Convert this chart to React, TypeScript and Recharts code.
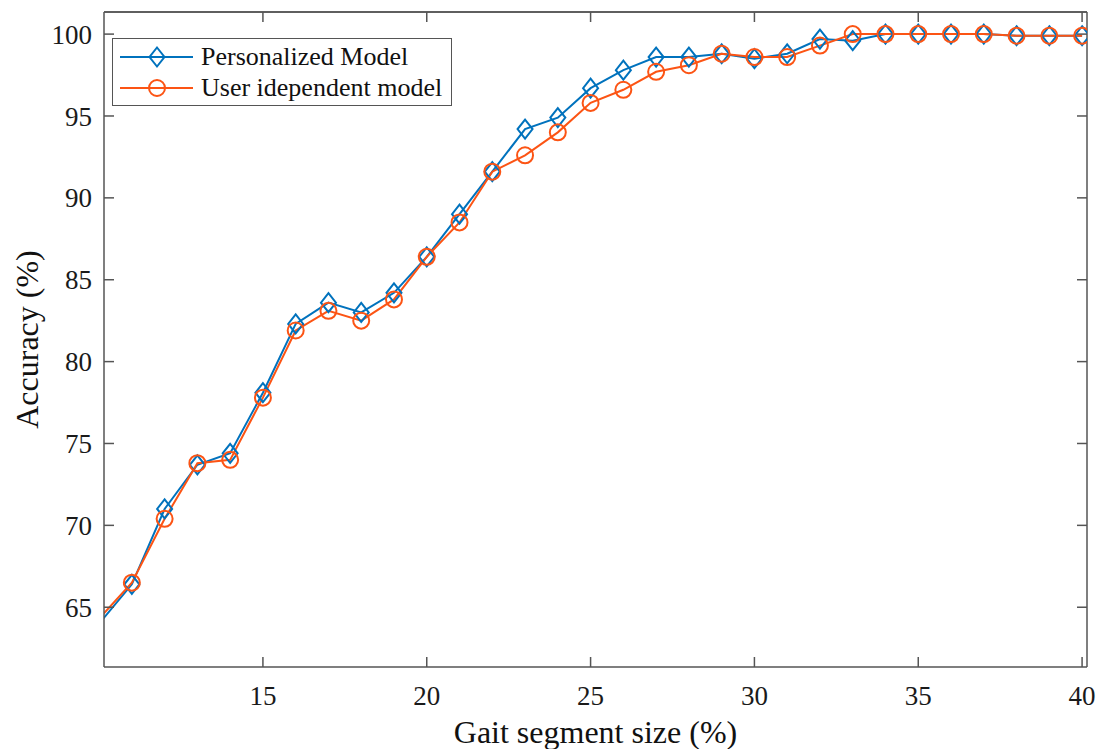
import React from 'react';
import { LineChart, Line, XAxis, YAxis, Legend, CartesianGrid } from 'recharts';

// gait segment size (%)
const segmentSizes = [10, 11, 12, 13, 14, 15, 16, 17, 18, 19, 20, 21, 22, 23, 24, 25, 26, 27, 28, 29, 30, 31, 32, 33, 34, 35, 36, 37, 38, 39, 40];
const personalized = [64.0, 66.4, 71.0, 73.7, 74.4, 78.1, 82.3, 83.6, 83.0, 84.2, 86.4, 89.0, 91.6, 94.2, 94.9, 96.7, 97.8, 98.6, 98.6, 98.8, 98.5, 98.8, 99.7, 99.6, 100, 100, 100, 100, 99.9, 99.9, 99.9];
const userIndependent = [64.3, 66.5, 70.4, 73.8, 74.0, 77.8, 81.9, 83.1, 82.5, 83.8, 86.4, 88.5, 91.6, 92.6, 94.0, 95.8, 96.6, 97.7, 98.1, 98.8, 98.6, 98.6, 99.3, 100, 100, 100, 100, 100, 99.9, 99.9, 99.9];

const xTicks = [15, 20, 25, 30, 35, 40];
const yTicks = [65, 70, 75, 80, 85, 90, 95, 100];
const X_DOMAIN: [number, number] = [10.15, 40.15];
const Y_DOMAIN: [number, number] = [61.35, 101.35];

const BLUE = '#0072BD';
const ORANGE = '#FC5414';
const AXIS = '#555555';
const FONT = 'Liberation Serif';

// plot frame (matches the margins / axis sizes below)
const PLOT_LEFT = 104;
const PLOT_RIGHT = 1087;
const PLOT_TOP = 12;

const data = segmentSizes.map((x, i) => ({
    x,
    personalized: personalized[i],
    independent: userIndependent[i],
}));

const Diamond = ({ cx, cy, color }: { cx: number; cy: number; color: string }) => (
    <polygon
        points={`${cx},${cy - 9.5} ${cx + 7.5},${cy} ${cx},${cy + 9.5} ${cx - 7.5},${cy}`}
        fill="none"
        stroke={color}
        strokeWidth={2}
    />
);

const renderDiamond = (props: any) => {
    if (props.payload.x < X_DOMAIN[0]) return <g key={`d-${props.index}`} />;
    return (
        <g key={`d-${props.index}`}>
            <Diamond cx={props.cx} cy={props.cy} color={BLUE} />
        </g>
    );
};

const renderCircle = (props: any) => {
    if (props.payload.x < X_DOMAIN[0]) return <g key={`c-${props.index}`} />;
    return (
        <circle key={`c-${props.index}`} cx={props.cx} cy={props.cy} r={8} fill="none" stroke={ORANGE} strokeWidth={2} />
    );
};

const LegendBox = () => {
    const rows = [
        { label: 'Personalized Model', color: BLUE, marker: 'diamond' },
        { label: 'User idependent model', color: ORANGE, marker: 'circle' },
    ];
    return (
        <div
            style={{
                width: 340,
                height: 68,
                border: `1.5px solid ${AXIS}`,
                background: '#fff',
                fontFamily: FONT,
                fontSize: 26,
                color: '#111',
                boxSizing: 'border-box',
                paddingTop: 2,
            }}
        >
            {rows.map((r) => (
                <div key={r.label} style={{ display: 'flex', alignItems: 'center', height: 31 }}>
                    <svg width={88} height={30} style={{ flex: 'none' }}>
                        <line x1={7} x2={80} y1={15} y2={15} stroke={r.color} strokeWidth={2} />
                        {r.marker === 'diamond' ? (
                            <Diamond cx={44} cy={15} color={r.color} />
                        ) : (
                            <circle cx={44} cy={15} r={8} fill="none" stroke={r.color} strokeWidth={2} />
                        )}
                    </svg>
                    <span style={{ lineHeight: '30px', whiteSpace: 'nowrap' }}>{r.label}</span>
                </div>
            ))}
        </div>
    );
};

const YLabel = (props: any) => {
    const { viewBox } = props;
    const x = viewBox.x + 27;
    const y = viewBox.y + viewBox.height / 2;
    return (
        <text
            x={x}
            y={y}
            transform={`rotate(-90, ${x}, ${y})`}
            textAnchor="middle"
            dominantBaseline="central"
            fontSize={32}
            fontFamily={FONT}
            fill="#111"
        >
            Accuracy (%)
        </text>
    );
};

// top edge of the box with inward ticks (MATLAB "box on")
const TopFrame = () => {
    const toPx = (t: number) => PLOT_LEFT + ((t - X_DOMAIN[0]) / (X_DOMAIN[1] - X_DOMAIN[0])) * (PLOT_RIGHT - PLOT_LEFT);
    return (
        <svg
            width={1099}
            height={40}
            style={{ position: 'absolute', left: 0, top: 0, zIndex: 10, pointerEvents: 'none' }}
        >
            <line x1={PLOT_LEFT} x2={PLOT_RIGHT} y1={PLOT_TOP} y2={PLOT_TOP} stroke={AXIS} strokeWidth={1.5} />
            {xTicks.map((t) => (
                <line key={`tick-${t}`} x1={toPx(t)} x2={toPx(t)} y1={PLOT_TOP} y2={PLOT_TOP + 10} stroke={AXIS} strokeWidth={1.5} />
            ))}
        </svg>
    );
};

const tickStyle = { fontSize: 27, fill: '#1a1a1a', fontFamily: FONT };

export default function App() {
    return (
        <div style={{ position: 'absolute', left: 0, top: 0, width: 1099, height: 749, background: '#fff', fontFamily: FONT }}>
            <LineChart
                width={1099}
                height={749}
                data={data}
                margin={{ top: PLOT_TOP, right: 11, left: 0, bottom: 0 }}
                style={{ fontFamily: FONT }}
            >
                <CartesianGrid
                    vertical={false}
                    horizontalCoordinatesGenerator={(props: any) => [props.offset.top]}
                    stroke={AXIS}
                    strokeWidth={1.5}
                    strokeDasharray="0"
                />
                <XAxis
                    dataKey="x"
                    type="number"
                    domain={X_DOMAIN}
                    allowDataOverflow
                    ticks={xTicks}
                    height={82}
                    stroke={AXIS}
                    strokeWidth={1.5}
                    tickSize={-10}
                    tickMargin={29}
                    tick={tickStyle}
                    label={{ value: 'Gait segment size (%)', position: 'insideBottom', offset: 6, fontSize: 32, fill: '#111', fontFamily: FONT }}
                />
                <YAxis
                    type="number"
                    domain={Y_DOMAIN}
                    allowDataOverflow
                    ticks={yTicks}
                    width={104}
                    stroke={AXIS}
                    strokeWidth={1.5}
                    tickSize={-10}
                    tickMargin={22}
                    tick={tickStyle}
                    label={YLabel}
                />
                <YAxis
                    yAxisId="right"
                    orientation="right"
                    type="number"
                    domain={Y_DOMAIN}
                    allowDataOverflow
                    ticks={yTicks}
                    width={1}
                    stroke={AXIS}
                    strokeWidth={1.5}
                    tickSize={-10}
                    tickFormatter={() => ''}
                />
                <Legend
                    verticalAlign="middle"
                    align="center"
                    layout="vertical"
                    wrapperStyle={{ left: 112, top: 38, width: 340, height: 68 }}
                    content={<LegendBox />}
                />
                <Line
                    type="linear"
                    dataKey="personalized"
                    name="Personalized Model"
                    stroke={BLUE}
                    strokeWidth={2}
                    dot={renderDiamond}
                    activeDot={false}
                    isAnimationActive={false}
                />
                <Line
                    type="linear"
                    dataKey="independent"
                    name="User idependent model"
                    stroke={ORANGE}
                    strokeWidth={2}
                    dot={renderCircle}
                    activeDot={false}
                    isAnimationActive={false}
                />
            </LineChart>
            <TopFrame />
        </div>
    );
}
